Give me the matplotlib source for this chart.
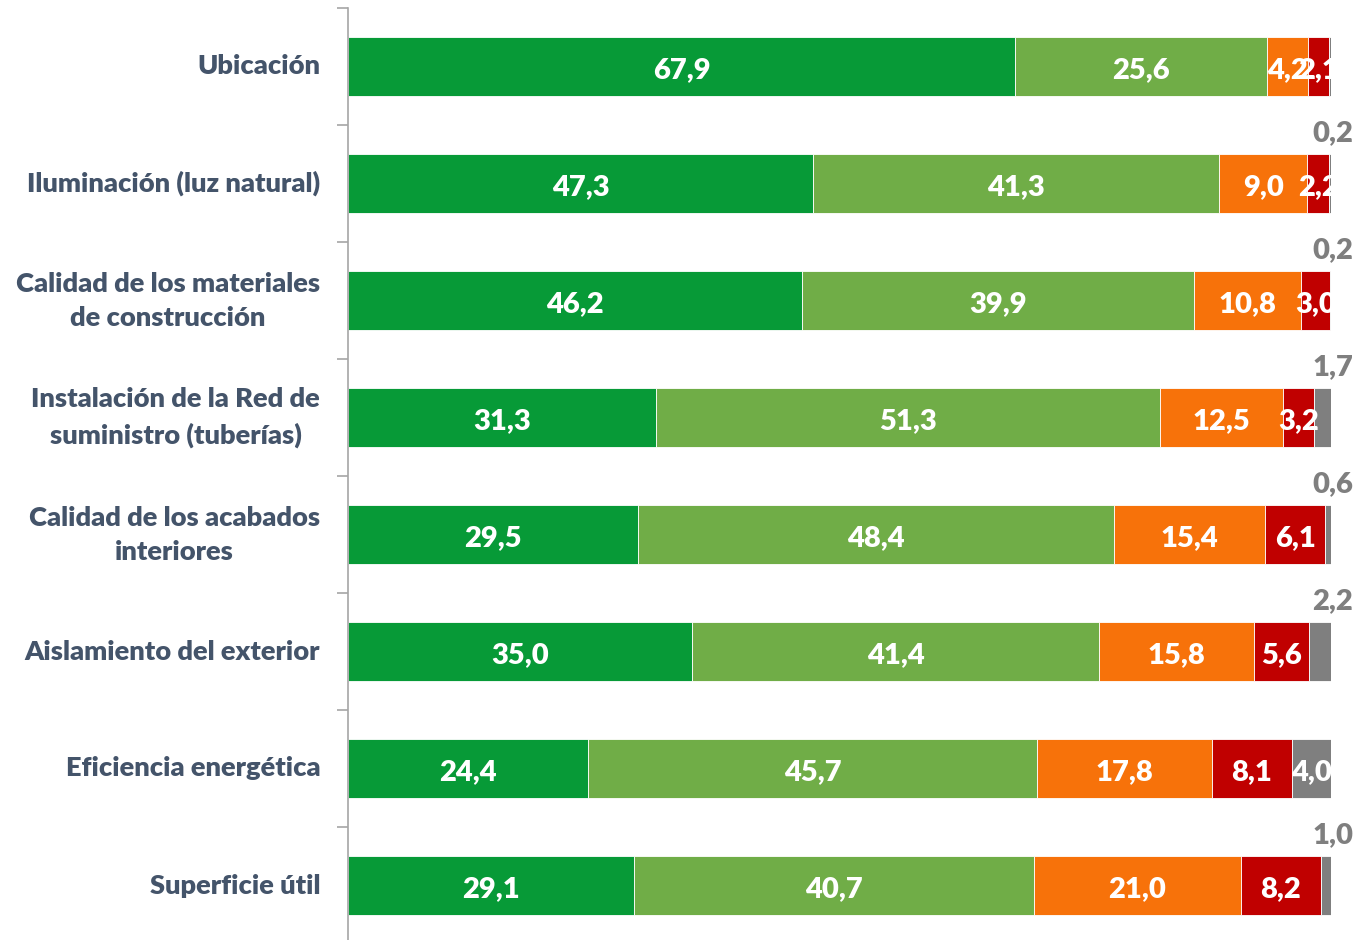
import matplotlib
matplotlib.use("Agg")
import matplotlib.pyplot as plt
import numpy as np

categories = [
    "Ubicación",
    "Iluminación (luz natural)",
    "Calidad de los materiales\nde construcción",
    "Instalación de la Red de\nsuministro (tuberías)",
    "Calidad de los acabados\ninteriores",
    "Aislamiento del exterior",
    "Eficiencia energética",
    "Superficie útil",
]
s1 = [67.9, 47.3, 46.2, 31.3, 29.5, 35.0, 24.4, 29.1]
s2 = [25.6, 41.3, 39.9, 51.3, 48.4, 41.4, 45.7, 40.7]
s3 = [4.2, 9.0, 10.8, 12.5, 15.4, 15.8, 17.8, 21.0]
s4 = [2.1, 2.2, 3.0, 3.2, 6.1, 5.6, 8.1, 8.2]
s5 = [0.2, 0.2, 0.2, 1.7, 0.6, 2.2, 4.0, 1.0]
show_gray_label = [False, True, True, True, True, True, True, True]

colors = ["#079A37", "#70AD47", "#F7720A", "#C00000", "#7F7F7F"]
series = [s1, s2, s3, s4, s5]

FONT = "Lato"
WEIGHT = "heavy"
fig = plt.figure(figsize=(13.56, 9.4), dpi=100)
ax = fig.add_axes([348 / 1356, -4 / 940, (1331 - 348) / 1356, 936 / 940])

y = np.arange(len(categories))
left = np.zeros(len(categories))
for k, (vals, c) in enumerate(zip(series, colors)):
    vals = np.array(vals)
    ax.barh(y, vals, left=left, height=0.5, color=c, edgecolor="white", linewidth=0.6, zorder=2)
    for i, v in enumerate(vals):
        cx = left[i] + v / 2
        lab = f"{v:.1f}".replace(".", ",")
        if k == 4 and v < 3:
            if show_gray_label[i]:
                ax.text(100.2, y[i] - 0.45, lab, ha="center", va="center_baseline", color="#7F7F7F",
                        fontsize=21, fontweight=WEIGHT, family=FONT, clip_on=False)
        else:
            ax.text(cx, y[i] + 0.01, lab, ha="center", va="center_baseline", color="white",
                    fontsize=21, fontweight=WEIGHT, family=FONT, clip_on=True, zorder=3)
    left = left + vals

ax.set_xlim(0, 100)
ax.set_ylim(len(categories) - 0.5, -0.5)
ax.set_yticks(y)
ax.set_yticklabels(categories)
ax.set_yticks(np.arange(-0.5, len(categories) + 0.5, 1), minor=True)
ax.tick_params(axis="y", which="major", length=0, pad=20)
ax.tick_params(axis="y", which="minor", length=8, width=1.2, color="#A6A6A6")
for lab in ax.get_yticklabels():
    lab.set_multialignment("center")
    lab.set_linespacing(1.5)
    lab.set_fontsize(19.6)
    lab.set_fontweight(WEIGHT)
    lab.set_family(FONT)
    lab.set_color("#44546A")
    lab.set_verticalalignment("center")
ax.set_xticks([])
for s in ["top", "right", "bottom"]:
    ax.spines[s].set_visible(False)
ax.spines["left"].set_color("#A6A6A6")
ax.spines["left"].set_linewidth(1.2)
ax.set_facecolor("white")

fig.savefig("out.png", dpi=100, facecolor="white")
